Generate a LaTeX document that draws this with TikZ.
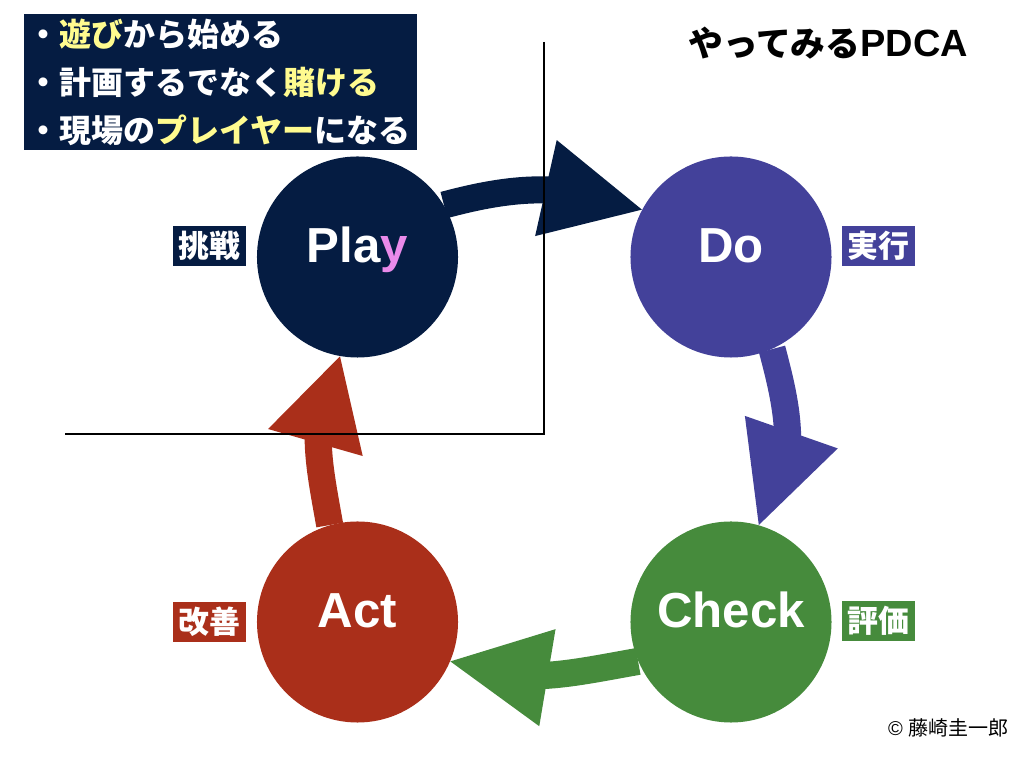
\documentclass[tikz,border=0pt]{standalone}
\usepackage{fontspec}
\usepackage{xcolor}
\usetikzlibrary{arrows.meta,bending}
\setmainfont{Liberation Sans}
\newfontfamily\cjk{Noto Sans CJK JP}
\definecolor{playnavy}{HTML}{051C42}
\definecolor{doblue}{HTML}{43419A}
\definecolor{checkgreen}{HTML}{468B3C}
\definecolor{actred}{HTML}{AA2F1A}
\definecolor{noteyellow}{HTML}{FFFB8F}
\definecolor{ypink}{HTML}{EA8AEA}
\newcommand{\yel}[1]{\textcolor{noteyellow}{#1}}
\begin{document}
\begin{tikzpicture}[x=0.2mm,y=0.2mm]
\tikzstyle{every node}+=[inner sep=0pt]
\tikzstyle{phase}=[circle,minimum size=114.4pt,text=white,font=\bfseries\fontsize{28}{30}\selectfont,text height=12pt,text depth=5.2pt]
\tikzstyle{tagbox}=[minimum width=41.5pt,minimum height=22.8pt,text=white,font=\cjk\bfseries\fontsize{17.6}{20}\selectfont]
\tikzstyle{flow}=[line width=15.4pt,-{Triangle[length=56pt,width=56pt,line width=0pt,flex]}]
\tikzstyle{shortflow}=[line width=15.4pt,-{Triangle[length=51pt,width=56pt,line width=0pt,flex]}]
\useasboundingbox (0,0) rectangle (1024,-768);
\node [phase,fill=playnavy] (play) at (357.5,-257) {Pla\textcolor{ypink}{y}};
\node [phase,fill=doblue] (do) at (731,-257) {Do};
\node [phase,fill=checkgreen] (check) at (731,-622) {Check};
\node [phase,fill=actred] (act) at (357.5,-622) {Act};
\node [tagbox,fill=playnavy] (tagplay) at (209.5,-246) {挑戦};
\node [tagbox,fill=doblue] (tagdo) at (878.5,-246) {実行};
\node [tagbox,fill=checkgreen] (tagcheck) at (878.5,-621) {評価};
\node [tagbox,fill=actred] (tagact) at (209.5,-622) {改善};
\draw [flow,playnavy] (play.31) to [out=15,in=160] (do.152);
\draw [flow,doblue] (do.-66.5) to [out=-75,in=53] (check.74);
\draw [flow,checkgreen] (check.203.5) to [out=190,in=-20] (act.-23.4);
\draw [shortflow,actred] (act.106.6) to [out=100,in=240] (play.260);
\coordinate (axistop) at (544,-42);
\coordinate (axiscorner) at (544,-434);
\coordinate (axisleft) at (65,-434);
\draw [black,line width=1pt] (axistop) -- (axiscorner) -- (axisleft);
\node [anchor=north west,fill=playnavy,text=white,text width=219.4pt,inner xsep=2pt,minimum height=77.4pt,align=left,font=\cjk\bfseries\fontsize{18.2}{27.3}\selectfont] (notes) at (24,-14) {・\yel{遊び}から始める\\・計画するでなく\yel{賭ける}\\・現場の\yel{プレイヤー}になる};
\node [anchor=base west,font=\bfseries\fontsize{21.6}{24}\selectfont] (title) at (688,-57) {{\cjk\fontsize{19.8}{24}\selectfont やってみる}PDCA};
\node [anchor=east,font=\fontsize{11.4}{14}\selectfont] (credit) at (1009,-728) {© {\cjk 藤崎圭一郎}};
\end{tikzpicture}
\end{document}
